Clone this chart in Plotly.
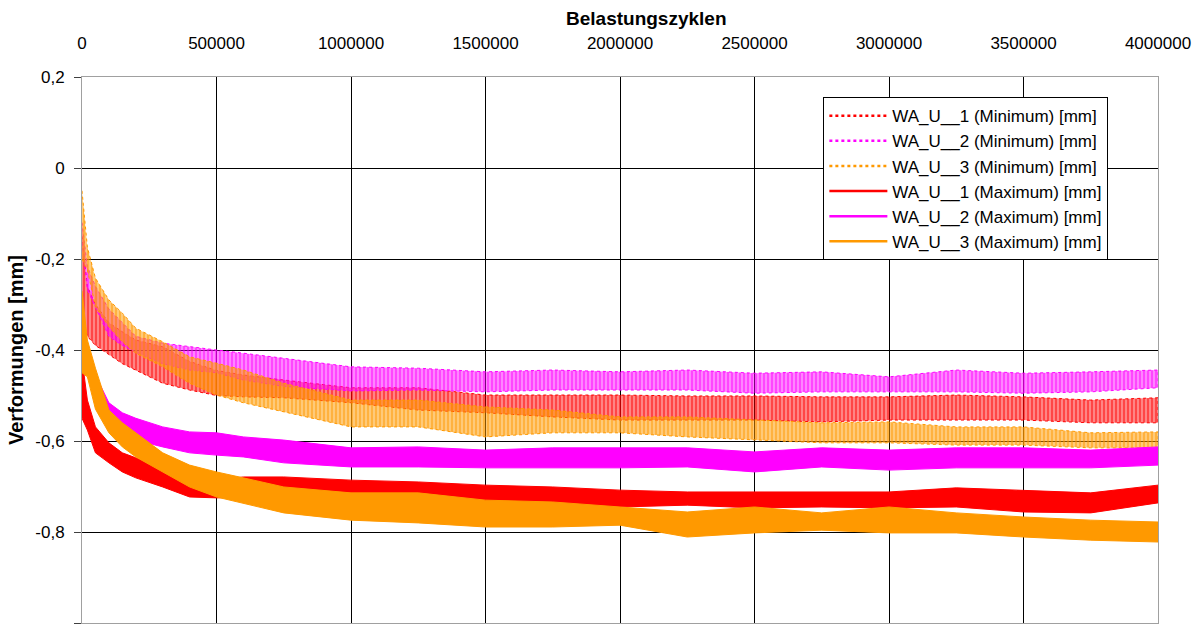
import plotly.graph_objects as go

# ---------------- data ----------------
cycles = [0, 20000, 50000, 100000, 150000, 200000, 300000, 400000, 500000,
          600000, 750000, 1000000, 1250000, 1500000, 1750000, 2000000,
          2250000, 2500000, 2750000, 3000000, 3250000, 3500000, 3750000,
          4000000]

# band envelopes (upper / lower edge of the scatter band) in mm
wa1_min_upper = [-0.15, -0.26, -0.30, -0.34, -0.36, -0.378, -0.393, -0.425, -0.445,
                 -0.455, -0.466, -0.483, -0.483, -0.499, -0.499, -0.499, -0.501,
                 -0.501, -0.503, -0.503, -0.499, -0.503, -0.51, -0.505]
wa1_min_lower = [-0.33, -0.37, -0.39, -0.41, -0.43, -0.444, -0.473, -0.488, -0.50,
                 -0.503, -0.505, -0.516, -0.532, -0.538, -0.547, -0.554, -0.554,
                 -0.554, -0.558, -0.554, -0.554, -0.554, -0.56, -0.56]

wa2_min_upper = [-0.12, -0.217, -0.26, -0.31, -0.34, -0.37, -0.385, -0.393, -0.40,
                 -0.407, -0.418, -0.437, -0.44, -0.448, -0.444, -0.448, -0.444,
                 -0.451, -0.448, -0.459, -0.444, -0.451, -0.448, -0.444]
wa2_min_lower = [-0.16, -0.268, -0.305, -0.37, -0.39, -0.405, -0.43, -0.444, -0.45,
                 -0.466, -0.48, -0.49, -0.488, -0.492, -0.488, -0.488, -0.488,
                 -0.495, -0.492, -0.492, -0.492, -0.495, -0.492, -0.483]

wa3_min_upper = [-0.05, -0.174, -0.242, -0.29, -0.319, -0.352, -0.382, -0.415, -0.429,
                 -0.444, -0.473, -0.51, -0.51, -0.525, -0.532, -0.547, -0.547,
                 -0.554, -0.56, -0.558, -0.569, -0.569, -0.582, -0.58]
wa3_min_lower = [-0.20, -0.224, -0.305, -0.349, -0.382, -0.407, -0.437, -0.473, -0.499,
                 -0.516, -0.536, -0.569, -0.569, -0.591, -0.582, -0.582, -0.591,
                 -0.598, -0.604, -0.604, -0.609, -0.609, -0.615, -0.615]

wa1_max_upper = [-0.42, -0.51, -0.569, -0.604, -0.626, -0.637, -0.664, -0.679, -0.686,
                 -0.679, -0.679, -0.686, -0.69, -0.697, -0.701, -0.708, -0.712,
                 -0.712, -0.712, -0.712, -0.703, -0.708, -0.714, -0.697]
wa1_max_lower = [-0.55, -0.576, -0.626, -0.648, -0.668, -0.681, -0.701, -0.723, -0.725,
                 -0.723, -0.714, -0.723, -0.723, -0.736, -0.745, -0.745, -0.741,
                 -0.747, -0.745, -0.747, -0.745, -0.756, -0.758, -0.736]

wa2_max_upper = [-0.33, -0.40, -0.455, -0.516, -0.538, -0.55, -0.569, -0.58, -0.582,
                 -0.591, -0.598, -0.615, -0.613, -0.62, -0.615, -0.615, -0.615,
                 -0.624, -0.615, -0.62, -0.615, -0.615, -0.62, -0.613]
wa2_max_lower = [-0.42, -0.45, -0.50, -0.554, -0.582, -0.598, -0.613, -0.626, -0.631,
                 -0.635, -0.648, -0.657, -0.657, -0.659, -0.659, -0.659, -0.657,
                 -0.668, -0.657, -0.664, -0.659, -0.659, -0.659, -0.653]

wa3_max_upper = [-0.27, -0.378, -0.44, -0.532, -0.56, -0.582, -0.626, -0.653, -0.668,
                 -0.681, -0.701, -0.714, -0.714, -0.73, -0.734, -0.745, -0.756,
                 -0.745, -0.758, -0.745, -0.758, -0.767, -0.774, -0.778]
wa3_max_lower = [-0.45, -0.459, -0.53, -0.582, -0.613, -0.635, -0.668, -0.701, -0.723,
                 -0.736, -0.758, -0.774, -0.78, -0.789, -0.789, -0.785, -0.811,
                 -0.802, -0.796, -0.802, -0.802, -0.811, -0.818, -0.822]

series_names = ["WA_U__1 (Minimum) [mm]", "WA_U__2 (Minimum) [mm]",
                "WA_U__3 (Minimum) [mm]", "WA_U__1 (Maximum) [mm]",
                "WA_U__2 (Maximum) [mm]", "WA_U__3 (Maximum) [mm]"]

x_tick_vals = [0, 500000, 1000000, 1500000, 2000000, 2500000, 3000000, 3500000, 4000000]
x_tick_text = ["0", "500000", "1000000", "1500000", "2000000", "2500000",
               "3000000", "3500000", "4000000"]
y_tick_vals = [0.2, 0, -0.2, -0.4, -0.6, -0.8, -1]
y_tick_text = ["0,2", "0", "-0,2", "-0,4", "-0,6", "-0,8", "-1"]

# ---------------- styling ----------------
RED, MAG, ORA = "#FF0000", "#FF00FF", "#FF9900"
TINT = {RED: "rgba(255,0,0,0.45)", MAG: "rgba(255,0,255,0.45)", ORA: "rgba(255,153,0,0.5)"}
bands = [
    (wa1_min_upper, wa1_min_lower, RED, True),
    (wa2_min_upper, wa2_min_lower, MAG, True),
    (wa3_min_upper, wa3_min_lower, ORA, True),
    (wa1_max_upper, wa1_max_lower, RED, False),
    (wa2_max_upper, wa2_max_lower, MAG, False),
    (wa3_max_upper, wa3_max_lower, ORA, False),
]

fig = go.Figure()
for (up, lo, col, dotted) in bands:
    xs = cycles + cycles[::-1]
    ys = up + lo[::-1]
    if dotted:
        fig.add_trace(go.Scatter(
            x=xs, y=ys, mode="lines", fill="toself",
            line=dict(width=1, color=col, dash="dot"),
            fillcolor=TINT[col],
            fillpattern=dict(shape="|", size=4, solidity=0.55,
                             fgcolor=col, fillmode="overlay"),
            showlegend=False, hoverinfo="skip"))
    else:
        fig.add_trace(go.Scatter(
            x=xs, y=ys, mode="lines", fill="toself",
            line=dict(width=1, color=col), fillcolor=col,
            showlegend=False, hoverinfo="skip"))

# legend entries
for i, (name, (_, _, col, dotted)) in enumerate(zip(series_names, bands)):
    fig.add_trace(go.Scatter(
        x=[None], y=[None], mode="lines", name=name, legendgroup=f"g{i}",
        line=dict(color=col, width=2.5, dash="dot" if dotted else "solid")))

FONT = "Liberation Sans, Arial, sans-serif"
fig.update_layout(
    width=1193, height=628,
    margin=dict(l=82, r=35, t=77, b=5),
    paper_bgcolor="white", plot_bgcolor="white",
    font=dict(family=FONT, size=17, color="#000000"),
    showlegend=True,
    legend=dict(x=0.689, y=0.963, xanchor="left", yanchor="top",
                bgcolor="white", bordercolor="#000000", borderwidth=1,
                font=dict(family=FONT, size=17, color="#000000"),
                traceorder="grouped", tracegroupgap=0,
                itemwidth=58),
    xaxis=dict(side="top", range=[0, 4000000],
               tickvals=x_tick_vals, ticktext=x_tick_text,
               showgrid=True, gridcolor="#000000", gridwidth=1,
               showline=True, linecolor="#A0A0A0", linewidth=1, mirror=True,
               zeroline=True, zerolinecolor="#404040", zerolinewidth=2,
               ticks="", ticklabelstandoff=20, automargin=False),
    yaxis=dict(range=[-1, 0.2],
               tickvals=y_tick_vals, ticktext=y_tick_text,
               showgrid=True, gridcolor="#000000", gridwidth=1,
               showline=True, linecolor="#A0A0A0", linewidth=1, mirror=True,
               zeroline=True, zerolinecolor="#000000", zerolinewidth=1,
               ticks="outside", ticklen=7, tickcolor="#404040",
               ticklabelstandoff=6, automargin=False,
               title=dict(text="<b>Verformungen [mm]</b>",
                          font=dict(family=FONT, size=20), standoff=6)),
    annotations=[dict(text="<b>Belastungszyklen</b>", xref="paper", yref="paper",
                      x=0.525, y=1, yshift=59, xanchor="center", yanchor="middle",
                      showarrow=False, font=dict(family=FONT, size=19))],
)

fig.write_html("out.html")
